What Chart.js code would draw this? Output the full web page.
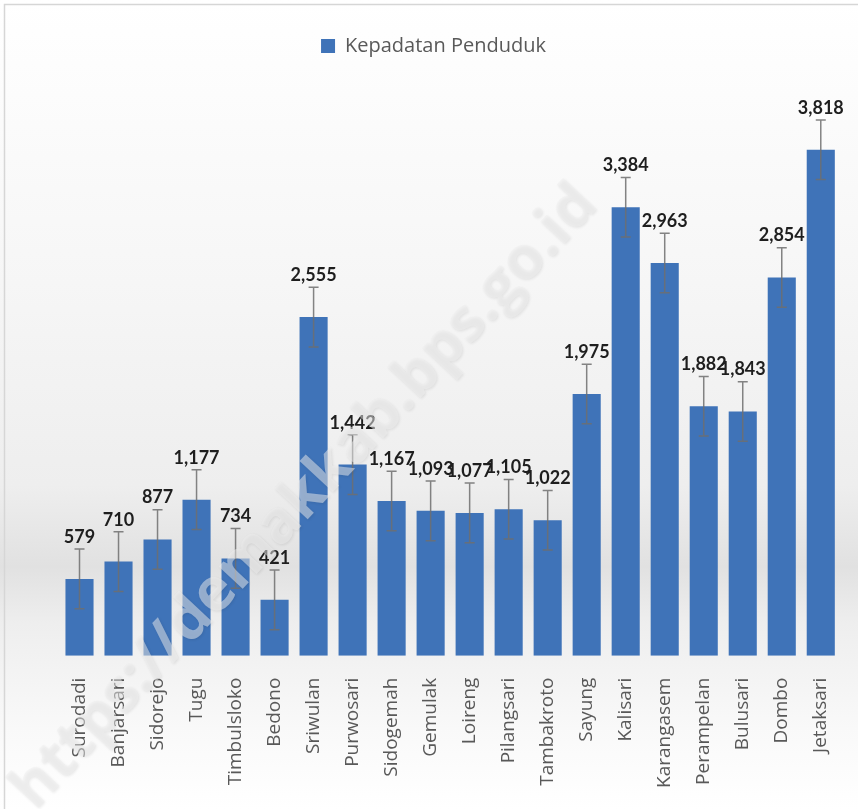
<!DOCTYPE html>
<html>
<head>
<meta charset="utf-8">
<script src="https://cdn.jsdelivr.net/npm/chart.js@4"></script>
<style>
  html, body { margin: 0; padding: 0; background: #fff; }
  #wrap { width: 858px; height: 809px; }
</style>
</head>
<body>
<div id="wrap"><canvas id="densityChart"></canvas></div>
<script>
const villages = ['Surodadi', 'Banjarsari', 'Sidorejo', 'Tugu', 'Timbulsloko', 'Bedono', 'Sriwulan',
    'Purwosari', 'Sidogemah', 'Gemulak', 'Loireng', 'Pilangsari', 'Tambakroto', 'Sayung', 'Kalisari',
    'Karangasem', 'Perampelan', 'Bulusari', 'Dombo', 'Jetaksari'];
const density = [579, 710, 877, 1177, 734, 421, 2555, 1442, 1167, 1093, 1077, 1105, 1022, 1975, 3384,
    2963, 1882, 1843, 2854, 3818];
// standard error bar, same for every village
const errorAmount = 225;
const seriesLabel = 'Kepadatan Penduduk';
const watermark = 'https://demakkab.bps.go.id';

const ctx = document.getElementById('densityChart').getContext('2d');

// Grey band background and thin frame, like the Excel chart area
const backgroundPlugin = {
    id: 'backgroundPlugin',
    afterLayout(chart) {
        // legend sits a bit left of centre in the original
        chart.legend.left -= 17;
        chart.legend.right -= 17;
    },
    beforeDraw(chart) {
        const c = chart.ctx;
        const h = chart.height;
        const grad = c.createLinearGradient(0, 0, 0, h);
        grad.addColorStop(0, '#ffffff');
        grad.addColorStop(0.35, '#f6f6f6');
        grad.addColorStop(0.6, '#eeeeee');
        grad.addColorStop(0.7, '#e1e1e1');
        grad.addColorStop(0.77, '#eeeeee');
        grad.addColorStop(0.9, '#f9f9f9');
        grad.addColorStop(1, '#ffffff');
        c.save();
        c.fillStyle = grad;
        c.fillRect(0, 0, chart.width, h);
        c.strokeStyle = '#d6d6d6';
        c.lineWidth = 1.5;
        c.strokeRect(4.5, 4.5, chart.width + 20, h + 20);
        c.restore();
    }
};

// Error bars + value labels on top of each bar
const errorBarPlugin = {
    id: 'errorBarPlugin',
    afterDatasetsDraw(chart) {
        const c = chart.ctx;
        const yScale = chart.scales.y;
        const meta = chart.getDatasetMeta(0);
        c.save();
        meta.data.forEach((bar, i) => {
            const v = density[i];
            const yHi = yScale.getPixelForValue(v + errorAmount);
            const yLo = yScale.getPixelForValue(v - errorAmount);
            c.strokeStyle = 'rgba(110,110,110,0.85)';
            c.lineWidth = 1.5;
            c.beginPath();
            c.moveTo(bar.x, yHi);
            c.lineTo(bar.x, yLo);
            c.moveTo(bar.x - 5, yHi);
            c.lineTo(bar.x + 5, yHi);
            c.moveTo(bar.x - 5, yLo);
            c.lineTo(bar.x + 5, yLo);
            c.stroke();

            c.fillStyle = '#1e1e1e';
            c.font = 'bold 18px Lato';
            c.textAlign = 'center';
            c.textBaseline = 'bottom';
            c.fillText(v.toLocaleString('en-US'), bar.x, yHi - 3);
        });
        c.restore();
    },
    afterDraw(chart) {
        // diagonal site watermark
        const c = chart.ctx;
        c.save();
        c.translate(305, 497);
        c.rotate(-47 * Math.PI / 180);
        c.font = 'bold 60px "Open Sans"';
        c.textAlign = 'center';
        c.textBaseline = 'middle';
        c.shadowColor = 'rgba(0,0,0,0.16)';
        c.shadowBlur = 3;
        c.shadowOffsetX = 1;
        c.shadowOffsetY = 1;
        c.fillStyle = 'rgba(240,240,240,0.5)';
        c.fillText(watermark, 0, 0);
        c.restore();
    }
};

new Chart(ctx, {
    type: 'bar',
    data: {
        labels: villages,
        datasets: [{
            label: seriesLabel,
            data: density,
            backgroundColor: '#3f73b8',
            borderWidth: 0,
            categoryPercentage: 1.0,
            barPercentage: 0.72
        }]
    },
    options: {
        responsive: true,
        maintainAspectRatio: false,
        animation: false,
        layout: {
            padding: { left: 60, right: 17, top: 26, bottom: 7 }
        },
        scales: {
            x: {
                grid: { display: false },
                border: { display: false },
                ticks: {
                    minRotation: 90,
                    maxRotation: 90,
                    autoSkip: false,
                    color: '#595959',
                    font: { family: 'Open Sans', size: 19 },
                    padding: 14
                }
            },
            y: {
                display: false,
                min: 0,
                max: 4450
            }
        },
        plugins: {
            legend: {
                position: 'top',
                labels: {
                    color: '#595959',
                    font: { family: 'Open Sans', size: 20 },
                    boxWidth: 14,
                    boxHeight: 14,
                    padding: 10
                }
            },
            tooltip: { enabled: false }
        }
    },
    plugins: [backgroundPlugin, errorBarPlugin]
});
</script>
</body>
</html>
